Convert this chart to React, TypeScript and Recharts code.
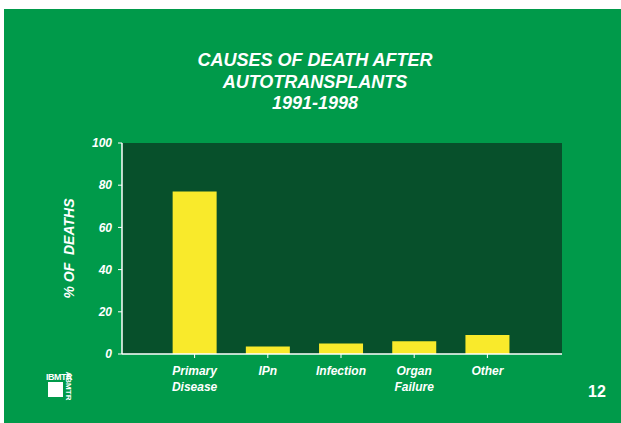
import React from 'react';
import { BarChart, Bar, XAxis, YAxis, CartesianGrid } from 'recharts';

const causes = ['Primary\nDisease', 'IPn', 'Infection', 'Organ\nFailure', 'Other'];
const deathPct = [77, 3.5, 5, 6, 9];
const yTicks = [0, 20, 40, 60, 80, 100];

const data = causes.map((cause, i) => ({ cause, pct: deathPct[i] }));

const FONT = '"Liberation Sans", Arial, sans-serif';
const BG = '#009a4a';
const PLOT = '#07502b';
const BAR = '#f9ea2b';

const XTick = ({ x, y, payload }: any) => {
  const lines = String(payload.value).split('\n');
  return (
    <text
      x={x}
      y={y}
      textAnchor="middle"
      fill="#fff"
      fontSize={12}
      fontWeight="bold"
      fontStyle="italic"
      fontFamily={FONT}
    >
      {lines.map((l, i) => (
        <tspan key={i} x={x} dy={i === 0 ? 14.5 : 16}>
          {l}
        </tspan>
      ))}
    </text>
  );
};

const tickStyle = { fill: '#fff', fontSize: 12, fontWeight: 'bold', fontStyle: 'italic', fontFamily: FONT };

export default function App() {
  return (
    <div style={{ position: 'absolute', left: 0, top: 0, width: 621, height: 423, background: '#fff', overflow: 'hidden' }}>
      <div style={{ position: 'absolute', left: 4, top: 9, width: 617, height: 414, background: BG }} />
      <div
        style={{
          position: 'absolute',
          left: 115,
          top: 50,
          width: 400,
          textAlign: 'center',
          color: '#fff',
          fontFamily: FONT,
          fontWeight: 'bold',
          fontStyle: 'italic',
          fontSize: 18,
          lineHeight: '21.7px',
        }}
      >
        CAUSES OF DEATH AFTER
        <br />
        AUTOTRANSPLANTS
        <br />
        1991-1998
      </div>
      <div style={{ position: 'absolute', left: 0, top: 0 }}>
        <BarChart
          width={621}
          height={423}
          data={data}
          margin={{ top: 143, right: 59, bottom: 24, left: 52 }}
          barCategoryGap="20%"
        >
          <CartesianGrid fill={PLOT} horizontal={false} vertical={false} />
          <XAxis
            dataKey="cause"
            interval={0}
            height={45}
            padding={{ left: 36, right: 38 }}
            axisLine={{ stroke: '#fff', strokeWidth: 1.5 }}
            tickLine={{ stroke: '#fff' }}
            tickSize={4}
            tick={<XTick />}
          />
          <XAxis
            xAxisId="top"
            orientation="top"
            height={0}
            tick={false}
            tickLine={false}
            axisLine={{ stroke: '#fff', strokeWidth: 1.5 }}
          />
          <YAxis
            domain={[0, 100]}
            ticks={yTicks}
            width={70}
            axisLine={{ stroke: '#fff', strokeWidth: 1.5 }}
            tickLine={{ stroke: '#fff' }}
            tickSize={4}
            tickMargin={6}
            tick={tickStyle}
            label={{
              value: '% OF\u00a0 DEATHS',
              angle: -90,
              position: 'insideLeft',
              offset: 17,
              style: { textAnchor: 'middle', fill: '#fff', fontSize: 14, fontWeight: 'bold', fontStyle: 'italic', fontFamily: FONT },
            }}
          />
          <YAxis
            yAxisId="right"
            orientation="right"
            width={0}
            domain={[0, 100]}
            tick={false}
            tickLine={false}
            axisLine={{ stroke: '#fff', strokeWidth: 1.5 }}
          />
          <Bar dataKey="pct" fill={BAR} isAnimationActive={false} />
        </BarChart>
      </div>
      {/* logo */}
      <div style={{ position: 'absolute', left: 46, top: 372, color: '#fff', fontFamily: FONT, fontWeight: 'bold', fontSize: 9, lineHeight: '10px', letterSpacing: -0.5 }}>
        IBMTR
      </div>
      <div style={{ position: 'absolute', left: 48, top: 382, width: 15, height: 15, background: '#fff' }} />
      <div
        style={{
          position: 'absolute',
          left: 52,
          top: 381,
          width: 32,
          transform: 'rotate(90deg)',
          transformOrigin: '16px 5px',
          color: '#fff',
          fontFamily: FONT,
          fontWeight: 'bold',
          fontSize: 8,
          lineHeight: '10px',
          textAlign: 'center',
        }}
      >
        ABMTR
      </div>
      <div style={{ position: 'absolute', left: 588, top: 382, color: '#fff', fontFamily: FONT, fontWeight: 'bold', fontSize: 16, lineHeight: '20px' }}>
        12
      </div>
    </div>
  );
}
